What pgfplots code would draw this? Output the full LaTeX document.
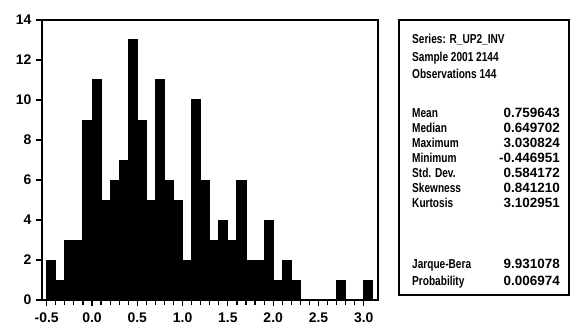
\documentclass[border=0pt]{standalone}
\usepackage{pgfplots}
\pgfplotsset{compat=1.18}
\usepackage{fontspec}
\setmainfont{Liberation Sans}
\newfontfamily\labfont[FakeStretch=0.78]{Liberation Sans}
\newfontfamily\valfont{Liberation Sans}
\begin{document}
\begin{tikzpicture}[x=1bp,y=1bp]
\useasboundingbox (0,0) rectangle (570,329);
\begin{axis}[
  at={(42bp,29bp)}, anchor=south west,
  scale only axis, width=336bp, height=280bp,
  xmin=-0.552, xmax=3.157, ymin=0, ymax=14,
  axis line style={line width=1.6bp},
  xtick={-0.5,0,0.5,1,1.5,2,2.5,3},
  xticklabels={-0.5,0.0,0.5,1.0,1.5,2.0,2.5,3.0},
  minor x tick num=4,
  ytick={0,2,4,6,8,10,12,14},
  xtick pos=bottom, ytick pos=left,
  tick align=outside,
  major tick length=6bp, minor tick length=5bp,
  tick style={black, line width=1.2bp},
  ticklabel style={font=\fontsize{14}{14}\selectfont\bfseries},
  /pgf/number format/assume math mode=true,
  xticklabel shift=3bp, yticklabel shift=1bp,
]
\addplot[ybar interval, fill=black, draw=black, line width=1bp] table[row sep=\\] {
x y\\
-0.5 2\\ -0.4 1\\ -0.3 3\\ -0.2 3\\ -0.1 9\\
0.0 11\\ 0.1 5\\ 0.2 6\\ 0.3 7\\ 0.4 13\\
0.5 9\\ 0.6 5\\ 0.7 11\\ 0.8 6\\ 0.9 5\\
1.0 2\\ 1.1 10\\ 1.2 6\\ 1.3 3\\ 1.4 4\\
1.5 3\\ 1.6 6\\ 1.7 2\\ 1.8 2\\ 1.9 4\\
2.0 1\\ 2.1 2\\ 2.2 1\\ 2.3 0\\ 2.4 0\\
2.5 0\\ 2.6 0\\ 2.7 1\\ 2.8 0\\ 2.9 0\\
3.0 1\\ 3.1 0\\
};
\end{axis}
\draw[line width=1.6bp] (399,34) rectangle (569.2,309);
\begin{scope}[every node/.style={inner sep=0pt}]
\def\lf{\labfont\bfseries\fontsize{13}{13}\selectfont}
\def\vf{\valfont\bfseries\fontsize{13.5}{14}\selectfont}
\node[anchor=base west, font=\lf] at (412,286) {Series: R\_UP2\_INV};
\node[anchor=base west, font=\lf] at (412,268) {Sample 2001 2144};
\node[anchor=base west, font=\lf] at (412,251) {Observations 144};
\node[anchor=base west, font=\lf] at (412,212) {Mean};
\node[anchor=base west, font=\lf] at (412,197) {Median};
\node[anchor=base west, font=\lf] at (412,182) {Maximum};
\node[anchor=base west, font=\lf] at (412,167) {Minimum};
\node[anchor=base west, font=\lf] at (412,152) {Std. Dev.};
\node[anchor=base west, font=\lf] at (412,137) {Skewness};
\node[anchor=base west, font=\lf] at (412,122) {Kurtosis};
\node[anchor=base west, font=\lf] at (412,61) {Jarque-Bera};
\node[anchor=base west, font=\lf] at (412,44) {Probability};
\node[anchor=base east, font=\vf] at (560,212) {0.759643};
\node[anchor=base east, font=\vf] at (560,197) {0.649702};
\node[anchor=base east, font=\vf] at (560,182) {3.030824};
\node[anchor=base east, font=\vf] at (560,167) {-0.446951};
\node[anchor=base east, font=\vf] at (560,152) {0.584172};
\node[anchor=base east, font=\vf] at (560,137) {0.841210};
\node[anchor=base east, font=\vf] at (560,122) {3.102951};
\node[anchor=base east, font=\vf] at (560,61) {9.931078};
\node[anchor=base east, font=\vf] at (560,44) {0.006974};
\end{scope}
\end{tikzpicture}
\end{document}
